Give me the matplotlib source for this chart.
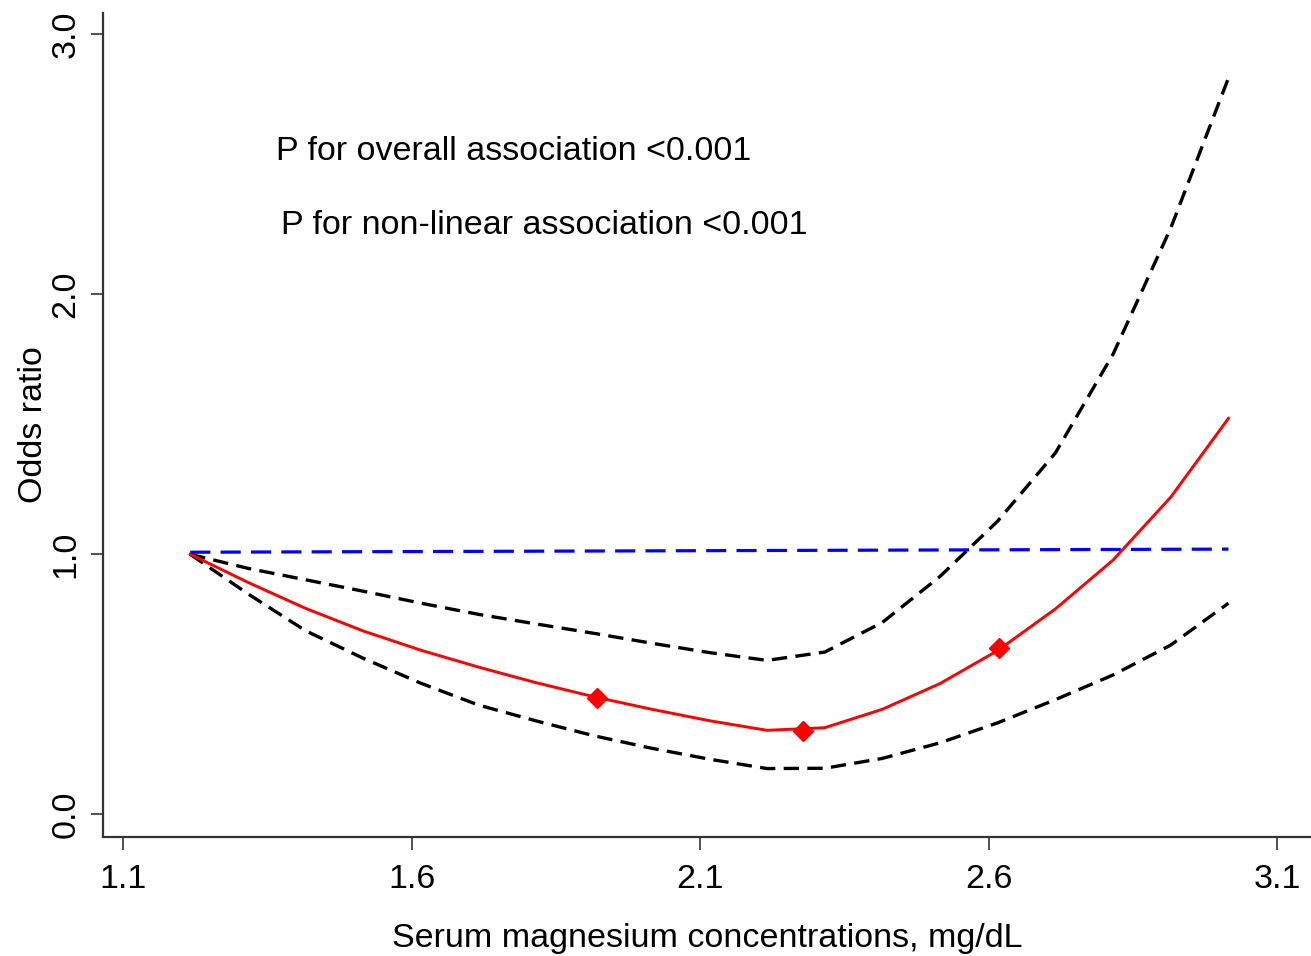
import matplotlib
matplotlib.use("Agg")
import matplotlib.pyplot as plt
import numpy as np

plt.rcParams['font.family'] = ['Liberation Sans', 'DejaVu Sans']

# magnesium grid (mg/dL) and the fitted odds ratio with 95% CI
mg = [1.216, 1.316, 1.416, 1.516, 1.616, 1.716, 1.816, 1.916, 2.016, 2.116,
      2.216, 2.316, 2.416, 2.516, 2.616, 2.716, 2.816, 2.916, 3.016]
odds = [1.000, 0.892, 0.792, 0.705, 0.631, 0.566, 0.506, 0.452, 0.404, 0.360,
        0.323, 0.333, 0.404, 0.503, 0.630, 0.790, 0.978, 1.220, 1.523]
upper = [1.000, 0.946, 0.902, 0.858, 0.812, 0.769, 0.732, 0.696, 0.658, 0.622,
         0.592, 0.624, 0.738, 0.915, 1.128, 1.390, 1.770, 2.255, 2.832]
lower = [1.000, 0.848, 0.706, 0.600, 0.504, 0.420, 0.359, 0.302, 0.254, 0.212,
         0.176, 0.177, 0.215, 0.275, 0.352, 0.441, 0.536, 0.651, 0.812]

# marked points on the curve
knot_x = [1.921, 2.279, 2.619]
knot_y = [0.448, 0.322, 0.638]

# reference line
ref_x = [1.216, 3.016]
ref_y = [1.008, 1.020]

xticks = [1.1, 1.6, 2.1, 2.6, 3.1]
yticks = [0.0, 1.0, 2.0, 3.0]

fig = plt.figure(figsize=(13.11, 9.56), dpi=100)
ax = fig.add_axes([0.0782, 0.125, 0.9218, 0.8614])

ax.plot(ref_x, ref_y, color='#0000FF', lw=2.3, dashes=(6.3, 3.2))
ax.plot(mg, upper, color='black', lw=2.4, dashes=(4.6, 2.5))
ax.plot(mg, lower, color='black', lw=2.4, dashes=(4.6, 2.5))
ax.plot(mg, odds, color='#FF0000', lw=2.1)
ax.plot(knot_x, knot_y, linestyle='none', marker='D', ms=10, color='#FF0000')

ax.set_xlim(1.0639, 3.1591)
ax.set_ylim(-0.0854, 3.082)
ax.set_xticks(xticks)
ax.set_xticklabels(['1.1', '1.6', '2.1', '2.6', '3.1'])
ax.set_yticks(yticks)
ax.set_yticklabels(['0.0', '1.0', '2.0', '3.0'], rotation=90, va='center')

for s in ['top', 'right']:
    ax.spines[s].set_visible(False)
for s in ['left', 'bottom']:
    ax.spines[s].set_linewidth(1.6)
    ax.spines[s].set_color('#333333')

ax.tick_params(axis='both', direction='out', length=9, width=1.2,
               color='#333333', labelsize=24.5)
ax.tick_params(axis='x', pad=11)
ax.tick_params(axis='y', pad=6)

ax.set_xlabel('Serum magnesium concentrations, mg/dL', fontsize=24.5, labelpad=20)
ax.set_ylabel('Odds ratio', fontsize=24.5)
ax.yaxis.set_label_coords(-0.044, 0.5)

ax.text(1.3647, 2.551, 'P for overall association <0.001', fontsize=24.5, va='center')
ax.text(1.3734, 2.266, 'P for non-linear association <0.001', fontsize=24.5, va='center')

fig.savefig('out.png', dpi=100)
